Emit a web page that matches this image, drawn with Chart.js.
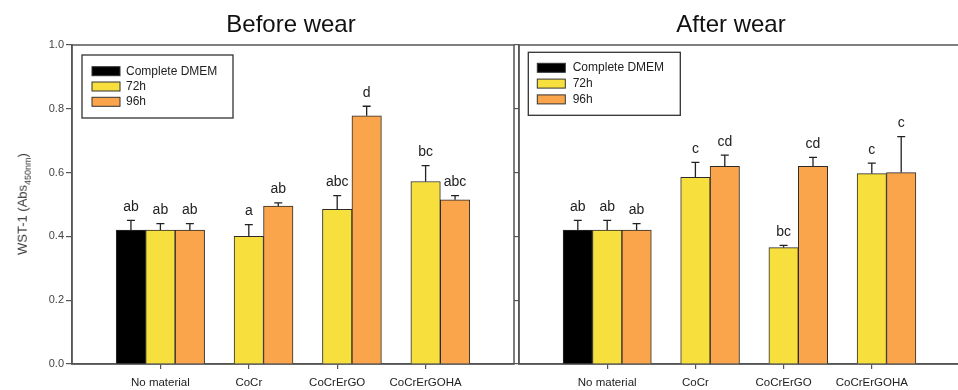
<!DOCTYPE html>
<html>
<head>
<meta charset="utf-8">
<script src="https://cdn.jsdelivr.net/npm/chart.js@4"></script>
<style>
  html, body { margin: 0; padding: 0; background: #fff; }
  body { width: 958px; height: 390px; position: relative; overflow: hidden;
         font-family: "Liberation Sans", Arial, sans-serif; }
  canvas { position: absolute; top: 0; }
  #cBefore { left: 0; }
  #cAfter { left: 500px; }
  .ttl { position: absolute; top: 24px; transform: translate(-50%, -50%);
         font-size: 24px; line-height: 1; color: #111; white-space: nowrap; }
  #ylab { position: absolute; left: 24px; top: 204px;
          transform: translate(-50%, -50%) rotate(-90deg);
          font-size: 13px; line-height: 1; color: #333; white-space: nowrap; }
  #ylab sub { font-size: 9px; }
</style>
</head>
<body>
<canvas id="cBefore" width="520" height="390"></canvas>
<canvas id="cAfter" width="470" height="390"></canvas>
<div class="ttl" style="left:291px">Before wear</div>
<div class="ttl" style="left:731px">After wear</div>
<div id="ylab">WST-1 (Abs<sub>450nm</sub>)</div>

<script>
// Groups along the x axis and the series drawn in each panel
const categories = ['No material', 'CoCr', 'CoCrErGO', 'CoCrErGOHA'];
const seriesNames = ['Complete DMEM', '72h', '96h'];
const seriesColors = ['#000000', '#F7E03E', '#FAA44B'];
const yTickValues = [0, 0.2, 0.4, 0.6, 0.8, 1.0];

// Before wear: means, upper SD and significance letters
const dmemBefore    = [0.42, null, null, null];
const dmemBeforeErr = [0.03, null, null, null];
const dmemBeforeSig = ['ab', '', '', ''];
const h72Before     = [0.42, 0.40, 0.485, 0.572];
const h72BeforeErr  = [0.02, 0.037, 0.043, 0.05];
const h72BeforeSig  = ['ab', 'a', 'abc', 'bc'];
const h96Before     = [0.42, 0.495, 0.778, 0.515];
const h96BeforeErr  = [0.02, 0.01, 0.03, 0.013];
const h96BeforeSig  = ['ab', 'ab', 'd', 'abc'];

// After wear
const dmemAfter    = [0.42, null, null, null];
const dmemAfterErr = [0.03, null, null, null];
const dmemAfterSig = ['ab', '', '', ''];
const h72After     = [0.42, 0.585, 0.365, 0.597];
const h72AfterErr  = [0.03, 0.047, 0.007, 0.033];
const h72AfterSig  = ['ab', 'c', 'bc', 'c'];
const h96After     = [0.42, 0.62, 0.62, 0.60];
const h96AfterErr  = [0.02, 0.035, 0.028, 0.113];
const h96AfterSig  = ['ab', 'cd', 'cd', 'c'];

const FONT = '"Liberation Sans", Arial, sans-serif';
Chart.defaults.font.family = FONT;

// Upper error bars with the letter of the statistical group above them
const errorBarPlugin = {
  id: 'errorBars',
  afterDatasetsDraw(chart) {
    const ctx = chart.ctx;
    const yScale = chart.scales.y;
    chart.data.datasets.forEach((ds, di) => {
      const meta = chart.getDatasetMeta(di);
      meta.data.forEach((bar, i) => {
        const v = ds.data[i].y;
        if (v == null) return;
        const e = ds.errors[i] || 0;
        const yTop = yScale.getPixelForValue(v + e);
        ctx.save();
        ctx.strokeStyle = '#222';
        ctx.lineWidth = 1.3;
        ctx.beginPath();
        ctx.moveTo(bar.x, bar.y);
        ctx.lineTo(bar.x, yTop);
        ctx.moveTo(bar.x - 4, yTop);
        ctx.lineTo(bar.x + 4, yTop);
        ctx.stroke();
        if (ds.sig[i]) {
          ctx.fillStyle = '#222';
          ctx.font = '14px ' + FONT;
          ctx.textAlign = 'center';
          ctx.textBaseline = 'alphabetic';
          ctx.fillText(ds.sig[i], bar.x, yTop - 9.5);
        }
        ctx.restore();
      });
    });
  }
};

// Frame around the plotting area
const framePlugin = {
  id: 'frame',
  beforeDatasetsDraw(chart) {
    const { ctx, chartArea: a } = chart;
    ctx.save();
    ctx.strokeStyle = '#555';
    ctx.lineWidth = 1.5;
    ctx.strokeRect(a.left, a.top, a.right - a.left, a.bottom - a.top);
    ctx.restore();
  }
};

// Boxed legend placed inside the plotting area
const boxLegendPlugin = {
  id: 'boxLegend',
  afterDraw(chart, args, opts) {
    const { ctx, chartArea: a } = chart;
    const x = a.left + opts.dx, y = a.top + opts.dy;
    ctx.save();
    ctx.fillStyle = '#fff';
    ctx.fillRect(x, y, opts.w, opts.h);
    ctx.strokeStyle = '#333';
    ctx.lineWidth = 1.3;
    ctx.strokeRect(x, y, opts.w, opts.h);
    chart.data.datasets.forEach((ds, i) => {
      const sy = y + opts.rowTop + i * opts.rowGap;
      ctx.fillStyle = ds.backgroundColor;
      ctx.fillRect(x + opts.swX, sy, 28, 9);
      ctx.strokeStyle = '#333';
      ctx.lineWidth = 1;
      ctx.strokeRect(x + opts.swX, sy, 28, 9);
      ctx.fillStyle = '#222';
      ctx.font = '12px ' + FONT;
      ctx.textAlign = 'left';
      ctx.textBaseline = 'middle';
      ctx.fillText(ds.label, x + opts.textX, sy + 4.5);
    });
    ctx.restore();
  }
};

function makeDataset(i, values, errors, sig) {
  return {
    label: seriesNames[i],
    data: categories.map((c, k) => ({ x: k, y: values[k] })),
    errors: errors,
    sig: sig,
    backgroundColor: seriesColors[i],
    borderColor: '#2b2b2b',
    borderWidth: 1,
    categoryPercentage: 1.0,
    barPercentage: 1.0
  };
}

function makeChart(id, datasets, yAxisWidth, showYLabels, padRight, legendOpts) {
  return new Chart(document.getElementById(id), {
    type: 'bar',
    data: { datasets },
    plugins: [framePlugin, errorBarPlugin, boxLegendPlugin],
    options: {
      responsive: false,
      animation: false,
      layout: { padding: { top: 45, right: padRight, left: 0, bottom: 0 } },
      plugins: {
        legend: { display: false },
        tooltip: { enabled: false },
        boxLegend: legendOpts
      },
      scales: {
        x: {
          type: 'linear',
          min: -1,
          max: categories.length,
          offset: false,
          afterBuildTicks: (scale) => {
            scale.ticks = categories.map((c, k) => ({ value: k }));
          },
          afterFit: (scale) => { scale.height = 26; },
          ticks: {
            autoSkip: false,
            maxRotation: 0,
            padding: 7,
            color: '#222',
            font: { size: 11.5 },
            callback: (v) => categories[v] ?? ''
          },
          grid: {
            display: true, offset: false, drawOnChartArea: false,
            drawTicks: true, tickLength: 5, color: '#555', lineWidth: 1.2
          },
          border: { display: true, color: '#555', width: 1.5 }
        },
        y: {
          min: 0,
          max: 1,
          afterBuildTicks: (scale) => {
            scale.ticks = yTickValues.map(v => ({ value: v }));
          },
          afterFit: (scale) => { scale.width = yAxisWidth; },
          ticks: {
            display: showYLabels,
            padding: 2,
            color: '#444',
            font: { size: 11 },
            callback: (v) => v.toFixed(1)
          },
          grid: {
            display: true, drawOnChartArea: false,
            drawTicks: true, tickLength: showYLabels ? 6 : 5, color: '#555', lineWidth: 1.2
          },
          border: { display: true, color: '#555', width: 1.5 }
        }
      }
    }
  });
}

makeChart('cBefore', [
  makeDataset(0, dmemBefore, dmemBeforeErr, dmemBeforeSig),
  makeDataset(1, h72Before, h72BeforeErr, h72BeforeSig),
  makeDataset(2, h96Before, h96BeforeErr, h96BeforeSig)
], 72, true, 6, { dx: 10, dy: 10, w: 151, h: 63, swX: 10, textX: 44, rowTop: 11.7, rowGap: 15.3 });

makeChart('cAfter', [
  makeDataset(0, dmemAfter, dmemAfterErr, dmemAfterSig),
  makeDataset(1, h72After, h72AfterErr, h72AfterSig),
  makeDataset(2, h96After, h96AfterErr, h96AfterSig)
], 19, false, 10, { dx: 9.3, dy: 7.3, w: 152, h: 63, swX: 9, textX: 44.4, rowTop: 11, rowGap: 15.8 });
</script>
</body>
</html>
